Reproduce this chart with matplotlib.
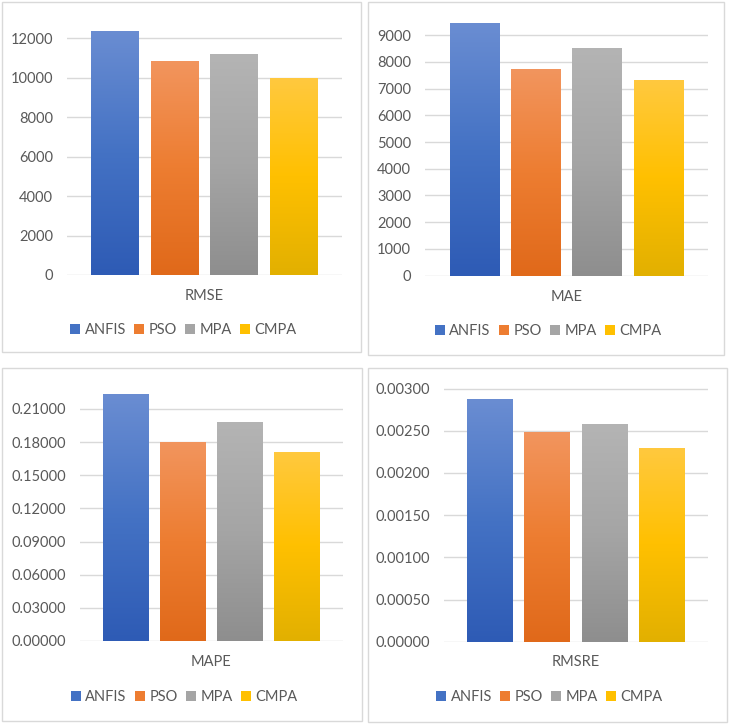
import matplotlib
matplotlib.use("Agg")
import matplotlib.pyplot as plt
import numpy as np
from matplotlib.colors import LinearSegmentedColormap
from matplotlib.patches import Rectangle, Patch

plt.rcParams['font.family'] = ['Lato', 'DejaVu Sans']

models = ["ANFIS", "PSO", "MPA", "CMPA"]
metrics = ["RMSE", "MAE", "MAPE", "RMSRE"]
rmse = [12370, 10850, 11200, 9970]
mae = [9440, 7730, 8530, 7320]
mape = [0.2233, 0.1805, 0.1985, 0.1712]
rmsre = [0.002875, 0.002481, 0.002576, 0.002299]
values = [rmse, mae, mape, rmsre]

yticks = [
    [0, 2000, 4000, 6000, 8000, 10000, 12000],
    [0, 1000, 2000, 3000, 4000, 5000, 6000, 7000, 8000, 9000],
    [0, 0.03, 0.06, 0.09, 0.12, 0.15, 0.18, 0.21],
    [0, 0.0005, 0.001, 0.0015, 0.002, 0.0025, 0.003],
]
ytop = [12500, 9500, 0.227, 0.00305]
fmts = ["{:.0f}", "{:.0f}", "{:.5f}", "{:.5f}"]

# gradient colors (top, middle, bottom)
grad = [
    ("#6A8DD2", "#4472C4", "#2E5BB5"),
    ("#F2955E", "#ED7D31", "#E0691A"),
    ("#B4B4B4", "#A5A5A5", "#8E8E8E"),
    ("#FFC93F", "#FFC000", "#E2B000"),
]
base = [g[1] for g in grad]

W, H = 729, 724
fig = plt.figure(figsize=(W / 100, H / 100), dpi=100)

ax_px = [
    (67, 342, 275),
    (425, 707.7, 275.7),
    (80, 342.7, 641),
    (444.3, 707.7, 641.7),
]
top_px = [28.4, 21.7, 390.2, 384.3]
panels = [
    (2, 361, 2, 352),
    (368, 724, 2, 355),
    (2, 362, 368, 721),
    (368, 727, 368, 722),
]
label_y = [296, 297, 662, 662]
legend_y = [330, 331, 697, 697]

txtc = "#595959"
fs = 10.5

for k in range(4):
    px0, px1, py0, py1 = panels[k]
    fig.patches.append(Rectangle((px0 / W, 1 - py1 / H), (px1 - px0) / W, (py1 - py0) / H,
                                 transform=fig.transFigure, fill=False,
                                 edgecolor="#D9D9D9", linewidth=1.0, zorder=0))
    l, r, b = ax_px[k]
    t = top_px[k]
    ax = fig.add_axes([l / W, 1 - b / H, (r - l) / W, (b - t) / H])
    xs = np.arange(4) - 1.5
    bars = ax.bar(xs, values[k], width=0.8, color="none", zorder=2)
    for i, bar in enumerate(bars):
        cmap = LinearSegmentedColormap.from_list("g", [grad[i][2], grad[i][1], grad[i][0]])
        gimg = np.linspace(0, 1, 256).reshape(-1, 1)
        x0 = bar.get_x()
        im = ax.imshow(gimg, cmap=cmap, origin="lower", aspect="auto",
                       extent=(x0, x0 + bar.get_width(), 0, bar.get_height()), zorder=2)
        im.set_clip_path(bar)
    ax.set_xlim(-2.3, 2.3)
    ax.set_ylim(0, ytop[k])
    ax.set_yticks(yticks[k])
    ax.set_yticklabels([fmts[k].format(v) for v in yticks[k]])
    ax.yaxis.grid(True, color="#D9D9D9", linewidth=1.0, zorder=0)
    ax.set_axisbelow(True)
    for s in ax.spines.values():
        s.set_visible(False)
    ax.tick_params(axis="y", length=0, pad=10, labelsize=fs, labelcolor=txtc)
    ax.set_xticks([])
    cx = (l + r) / 2
    fig.text(cx / W, 1 - label_y[k] / H, metrics[k], ha="center", va="center",
             fontsize=fs, color=txtc)
    handles = [Patch(facecolor=base[i], edgecolor="none") for i in range(4)]
    fig.legend(handles, models, loc="center",
               bbox_to_anchor=(((px0 + px1) / 2 + 2) / W, 1 - legend_y[k] / H),
               ncol=4, frameon=False, fontsize=fs, labelcolor=txtc,
               handlelength=0.7, handleheight=0.7, handletextpad=0.3,
               columnspacing=0.55, borderaxespad=0, borderpad=0)

fig.savefig("out.png", dpi=100, facecolor="white")
